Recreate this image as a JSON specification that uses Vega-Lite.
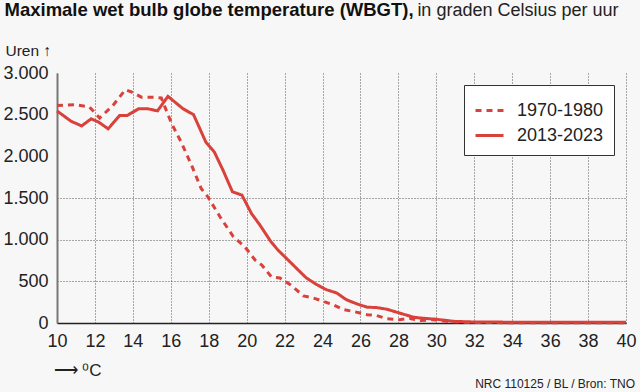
{
  "$schema": "https://vega.github.io/schema/vega-lite/v6.json",
  "width": 569,
  "height": 250,
  "autosize": {"type": "none"},
  "padding": {"left": 57, "top": 73, "right": 14, "bottom": 69},
  "background": "#f7f7f7",
  "title": {"text": "NRC 110125 / BL / Bron: TNO", "orient": "bottom", "anchor": "end", "frame": "group", "font": "Liberation Sans", "fontSize": 12, "fontWeight": "normal", "color": "#222222", "offset": 1, "dx": 9},
  "config": {
    "view": {"stroke": null},
    "font": "Liberation Sans",
    "legend": {"orient": "top-right", "offset": 12, "fillColor": "#ffffff", "strokeColor": "#333333", "padding": 10, "symbolType": "stroke", "symbolSize": 784, "symbolStrokeWidth": 3, "labelFont": "Liberation Sans", "labelFontSize": 18, "labelColor": "#222222", "labelOffset": 12, "rowPadding": -6}
  },
  "data": {"values": [
    {"periode": "1970-1980", "t": 10, "uren": 2610},
    {"periode": "1970-1980", "t": 10.9, "uren": 2620},
    {"periode": "1970-1980", "t": 11.7, "uren": 2595},
    {"periode": "1970-1980", "t": 12.25, "uren": 2460},
    {"periode": "1970-1980", "t": 12.95, "uren": 2610},
    {"periode": "1970-1980", "t": 13.6, "uren": 2800},
    {"periode": "1970-1980", "t": 13.95, "uren": 2770},
    {"periode": "1970-1980", "t": 14.45, "uren": 2710},
    {"periode": "1970-1980", "t": 15.15, "uren": 2710},
    {"periode": "1970-1980", "t": 15.5, "uren": 2700},
    {"periode": "1970-1980", "t": 16.05, "uren": 2390},
    {"periode": "1970-1980", "t": 16.55, "uren": 2170},
    {"periode": "1970-1980", "t": 17.1, "uren": 1890},
    {"periode": "1970-1980", "t": 17.6, "uren": 1615},
    {"periode": "1970-1980", "t": 17.95, "uren": 1515},
    {"periode": "1970-1980", "t": 18.65, "uren": 1255},
    {"periode": "1970-1980", "t": 19.3, "uren": 1035},
    {"periode": "1970-1980", "t": 19.9, "uren": 915},
    {"periode": "1970-1980", "t": 20.45, "uren": 755},
    {"periode": "1970-1980", "t": 20.8, "uren": 695},
    {"periode": "1970-1980", "t": 21.3, "uren": 555},
    {"periode": "1970-1980", "t": 21.75, "uren": 540},
    {"periode": "1970-1980", "t": 22.3, "uren": 460},
    {"periode": "1970-1980", "t": 23.0, "uren": 325},
    {"periode": "1970-1980", "t": 23.5, "uren": 300},
    {"periode": "1970-1980", "t": 24.05, "uren": 260},
    {"periode": "1970-1980", "t": 24.55, "uren": 220},
    {"periode": "1970-1980", "t": 25.1, "uren": 160},
    {"periode": "1970-1980", "t": 25.6, "uren": 140},
    {"periode": "1970-1980", "t": 26.35, "uren": 100},
    {"periode": "1970-1980", "t": 26.85, "uren": 90},
    {"periode": "1970-1980", "t": 27.4, "uren": 50},
    {"periode": "1970-1980", "t": 28.05, "uren": 40},
    {"periode": "1970-1980", "t": 28.6, "uren": 55},
    {"periode": "1970-1980", "t": 29.15, "uren": 30},
    {"periode": "1970-1980", "t": 29.85, "uren": 40},
    {"periode": "1970-1980", "t": 30.5, "uren": 20},
    {"periode": "1970-1980", "t": 31.5, "uren": 8},
    {"periode": "1970-1980", "t": 32.5, "uren": 5},
    {"periode": "1970-1980", "t": 34, "uren": 4},
    {"periode": "1970-1980", "t": 36, "uren": 3},
    {"periode": "1970-1980", "t": 38, "uren": 2},
    {"periode": "1970-1980", "t": 40, "uren": 2},
    {"periode": "2013-2023", "t": 10, "uren": 2545},
    {"periode": "2013-2023", "t": 10.75, "uren": 2420},
    {"periode": "2013-2023", "t": 11.3, "uren": 2365},
    {"periode": "2013-2023", "t": 11.8, "uren": 2450},
    {"periode": "2013-2023", "t": 12.2, "uren": 2410},
    {"periode": "2013-2023", "t": 12.7, "uren": 2330},
    {"periode": "2013-2023", "t": 13.3, "uren": 2490},
    {"periode": "2013-2023", "t": 13.7, "uren": 2490},
    {"periode": "2013-2023", "t": 14.3, "uren": 2570},
    {"periode": "2013-2023", "t": 14.8, "uren": 2570},
    {"periode": "2013-2023", "t": 15.3, "uren": 2545},
    {"periode": "2013-2023", "t": 15.85, "uren": 2720},
    {"periode": "2013-2023", "t": 16.65, "uren": 2570},
    {"periode": "2013-2023", "t": 17.2, "uren": 2500},
    {"periode": "2013-2023", "t": 17.85, "uren": 2170},
    {"periode": "2013-2023", "t": 18.3, "uren": 2050},
    {"periode": "2013-2023", "t": 18.75, "uren": 1835},
    {"periode": "2013-2023", "t": 19.25, "uren": 1575},
    {"periode": "2013-2023", "t": 19.75, "uren": 1535},
    {"periode": "2013-2023", "t": 20.25, "uren": 1315},
    {"periode": "2013-2023", "t": 20.7, "uren": 1175},
    {"periode": "2013-2023", "t": 21.25, "uren": 985},
    {"periode": "2013-2023", "t": 21.65, "uren": 875},
    {"periode": "2013-2023", "t": 22.1, "uren": 775},
    {"periode": "2013-2023", "t": 22.7, "uren": 640},
    {"periode": "2013-2023", "t": 23.15, "uren": 540},
    {"periode": "2013-2023", "t": 23.7, "uren": 460},
    {"periode": "2013-2023", "t": 24.2, "uren": 400},
    {"periode": "2013-2023", "t": 24.75, "uren": 360},
    {"periode": "2013-2023", "t": 25.25, "uren": 280},
    {"periode": "2013-2023", "t": 25.8, "uren": 230},
    {"periode": "2013-2023", "t": 26.35, "uren": 190},
    {"periode": "2013-2023", "t": 26.85, "uren": 185},
    {"periode": "2013-2023", "t": 27.4, "uren": 165},
    {"periode": "2013-2023", "t": 28.05, "uren": 120},
    {"periode": "2013-2023", "t": 28.8, "uren": 70},
    {"periode": "2013-2023", "t": 29.15, "uren": 60},
    {"periode": "2013-2023", "t": 30, "uren": 45},
    {"periode": "2013-2023", "t": 30.9, "uren": 20},
    {"periode": "2013-2023", "t": 32, "uren": 12},
    {"periode": "2013-2023", "t": 34, "uren": 10},
    {"periode": "2013-2023", "t": 36, "uren": 10},
    {"periode": "2013-2023", "t": 38, "uren": 8},
    {"periode": "2013-2023", "t": 40, "uren": 8}
  ]},
  "layer": [
    {
      "mark": {"type": "line", "strokeWidth": 3},
      "encoding": {
        "x": {"field": "t", "type": "quantitative", "scale": {"domain": [10, 40], "nice": false, "zero": false},
          "axis": {"values": [10, 12, 14, 16, 18, 20, 22, 24, 26, 28, 30, 32, 34, 36, 38, 40], "labelOverlap": false, "labelFlush": false,
            "title": "⟶ ⁰C", "titleX": -4, "titleY": 52, "titleAlign": "left", "titleBaseline": "alphabetic", "titleFontSize": 17, "titleFontWeight": "normal", "titleColor": "#222222",
            "ticks": false, "labelFontSize": 18, "labelColor": "#222222", "labelPadding": 9,
            "domainColor": "#222222", "domainWidth": 1.5,
            "grid": true, "gridColor": "#555555", "gridDash": [1, 2], "gridWidth": 1}},
        "y": {"field": "uren", "type": "quantitative", "scale": {"domain": [0, 3000], "nice": false},
          "axis": {"values": [0, 500, 1000, 1500, 2000, 2500, 3000], "labelExpr": "replace(format(datum.value, ','), ',', '.')",
            "title": "Uren ↑", "titleAngle": 0, "titleX": -52, "titleY": -18, "titleAlign": "left", "titleBaseline": "alphabetic", "titleFontSize": 15.5, "titleFontWeight": "normal", "titleColor": "#222222",
            "ticks": false, "labelFontSize": 18, "labelColor": "#222222", "labelPadding": 9, "labelFlush": false,
            "domainColor": "#777777", "domainWidth": 2,
            "grid": true, "gridColor": "#555555", "gridDash": [1, 2], "gridWidth": 1,
            "gridOpacity": {"condition": {"test": "datum.value > 0 && datum.value <= 1500", "value": 1}, "value": 0}}},
        "color": {"field": "periode", "type": "nominal", "scale": {"range": ["#d9413b", "#d9413b"]}, "legend": {"title": null}},
        "strokeDash": {"field": "periode", "type": "nominal", "scale": {"range": [[6, 5], [1, 0]]}, "legend": {"title": null}}
      }
    },
    {
      "mark": {"type": "point", "opacity": 0},
      "encoding": {
        "x": {"field": "t", "type": "quantitative",
          "axis": {"orient": "top", "labels": false, "ticks": false, "domain": false, "grid": false,
            "title": "Maximale wet bulb globe temperature (WBGT),", "titleX": -53, "titleY": -58, "titleAlign": "left", "titleBaseline": "alphabetic", "titleFontSize": 18.5, "titleFontWeight": "bold", "titleColor": "#111111"}},
        "y": {"field": "uren", "type": "quantitative",
          "axis": {"orient": "right", "labels": false, "ticks": false, "domain": false, "grid": false,
            "title": "in graden Celsius per uur", "titleAngle": 0, "titleX": -8, "titleY": -58, "titleAlign": "right", "titleBaseline": "alphabetic", "titleFontSize": 18, "titleFontWeight": "normal", "titleColor": "#222222"}}
      }
    }
  ],
  "resolve": {"axis": {"x": "independent", "y": "independent"}}
}
